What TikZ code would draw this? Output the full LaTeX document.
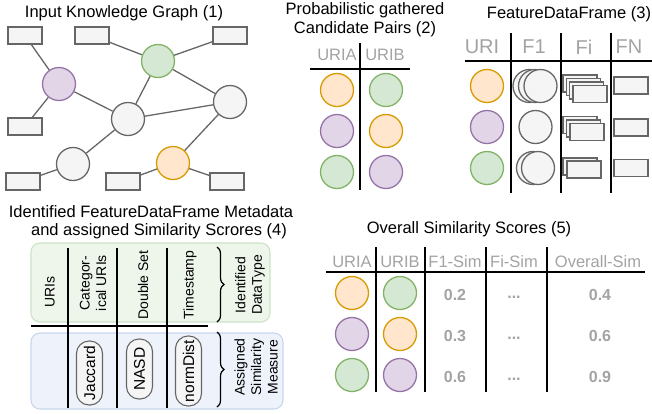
\documentclass[tikz,border=0pt]{standalone}
\usepackage{fontspec}
\setmainfont{Liberation Sans}
\usetikzlibrary{decorations.pathreplacing}
\definecolor{orF}{HTML}{FFE6CC}\definecolor{orS}{HTML}{D79B00}
\definecolor{puF}{HTML}{E1D5E7}\definecolor{puS}{HTML}{9673A6}
\definecolor{grF}{HTML}{D5E8D4}\definecolor{grS}{HTML}{82B366}
\definecolor{gyF}{HTML}{F5F5F5}\definecolor{gyS}{HTML}{666666}
\definecolor{hdr}{HTML}{A3A3A3}
\definecolor{gbF}{HTML}{EEF6EC}\definecolor{gbS}{HTML}{CCE3C7}
\definecolor{bbF}{HTML}{EEF3FB}\definecolor{bbS}{HTML}{C8D6EC}
\tikzset{
 ent/.style={circle, line width=1.3pt, minimum size=33pt, inner sep=0pt},
 ora/.style={ent, fill=orF, draw=orS},
 pur/.style={ent, fill=puF, draw=puS},
 grn/.style={ent, fill=grF, draw=grS},
 gry/.style={ent, fill=gyF, draw=gyS},
 lit/.style={rectangle, draw=gyS, fill=gyF, line width=1.3pt, minimum width=34pt, minimum height=17pt, inner sep=0pt},
 kgedge/.style={draw=gyS, line width=1.3pt},
 ttl/.style={font=\fontsize{16.5}{19}\selectfont, inner sep=0pt, align=center},
 hd/.style={text=hdr, font=\fontsize{16.5}{19}\selectfont, inner sep=0pt},
 hdbig/.style={text=hdr, font=\fontsize{20}{22}\selectfont, inner sep=0pt},
 val/.style={text=hdr, font=\fontsize{16}{18}\selectfont\bfseries, inner sep=0pt},
 tline/.style={line width=1.3pt, black},
 rot/.style={rotate=90, font=\fontsize{14}{16.5}\selectfont, inner sep=0pt, align=center},
 pill/.style={rotate=90, draw=gyS, fill=gyF, line width=1.1pt, rounded corners=12.5pt, minimum height=26pt, inner sep=0pt, font=\fontsize{15.5}{17}\selectfont},
 brc/.style={decorate, decoration={brace, amplitude=7pt}, line width=1.2pt, black},
}
\begin{document}
\begin{tikzpicture}[x=1pt, y=-1pt]
\useasboundingbox (0,0) rectangle (652,413);
% ---------- Panel 1: knowledge graph ----------
\node[ttl] (t1) at (124,13.5) {Input Knowledge Graph (1)};
\node[lit] (r1) at (25,35.5) {};
\node[lit] (r2) at (92,35.5) {};
\node[lit] (r3) at (230,35.5) {};
\node[lit] (r4) at (25,126.5) {};
\node[lit] (r5) at (23,181.5) {};
\node[lit] (r6) at (123,181.5) {};
\node[lit] (r7) at (227,181.5) {};
\node[grn] (gG) at (158,61) {};
\node[pur] (gP) at (59,84) {};
\node[gry] (gC) at (128,119) {};
\node[gry] (gR) at (230,102) {};
\node[gry] (gB) at (73,164) {};
\node[ora] (gO) at (173,163) {};
\draw[kgedge] (r1) -- (gP);
\draw[kgedge] (gP) -- (r4);
\draw[kgedge] (gP) -- (gC);
\draw[kgedge] (r2) -- (gG);
\draw[kgedge] (gG) -- (r3);
\draw[kgedge] (gG) -- (gC);
\draw[kgedge] (gG) -- (gR);
\draw[kgedge] (gC) -- (gR);
\draw[kgedge] (gC) -- (gB);
\draw[kgedge] (gB) -- (r5);
\draw[kgedge] (gR) -- (gO);
\draw[kgedge] (gO) -- (r6);
\draw[kgedge] (gO) -- (r7);
% ---------- Panel 2: candidate pairs ----------
\node[ttl] (t2) at (365,19.5) {Probabilistic gathered\\Candidate Pairs (2)};
\node[hd] (h2a) at (337,55) {URIA};
\node[hd] (h2b) at (385,55) {URIB};
\coordinate (v2t) at (360,43); \coordinate (v2b) at (360,190);
\coordinate (h2l) at (310,69); \coordinate (h2r) at (410,69);
\draw[tline] (v2t) -- (v2b);
\draw[tline] (h2l) -- (h2r);
\node[ora] (p2a1) at (337,90) {};  \node[grn] (p2b1) at (386,90) {};
\node[pur] (p2a2) at (337,131) {}; \node[ora] (p2b2) at (386,131) {};
\node[grn] (p2a3) at (337,172) {}; \node[pur] (p2b3) at (386,172) {};
% ---------- Panel 3: feature data frame ----------
\node[ttl] (t3) at (569,14) {FeatureDataFrame (3)};
\node[hdbig] (h3a) at (482,47) {URI};
\node[hdbig] (h3b) at (534,47) {F1};
\node[hdbig] (h3c) at (584,47) {Fi};
\node[hdbig] (h3d) at (629,47) {FN};
\coordinate (v3at) at (511,33); \coordinate (v3ab) at (511,193);
\coordinate (v3bt) at (561,33); \coordinate (v3bb) at (561,193);
\coordinate (v3ct) at (611,33); \coordinate (v3cb) at (611,193);
\coordinate (h3l) at (465,61); \coordinate (h3r) at (652,61);
\draw[tline] (v3at) -- (v3ab);
\draw[tline] (v3bt) -- (v3bb);
\draw[tline] (v3ct) -- (v3cb);
\draw[tline] (h3l) -- (h3r);
\node[ora] (u1) at (487,86) {};
\node[pur] (u2) at (487,127) {};
\node[grn] (u3) at (487,168) {};
\node[gry] (f11a) at (529.5,86) {};
\node[gry] (f11b) at (535,86) {};
\node[gry] (f11c) at (540.5,86) {};
\node[gry] (f12a) at (535.5,127) {};
\node[gry] (f13a) at (533,168) {};
\node[gry] (f13b) at (538,168) {};
\node[lit] (fi1a) at (580,83.5) {};
\node[lit] (fi1b) at (583.3,87) {};
\node[lit] (fi1c) at (586.7,90.5) {};
\node[lit] (fi1d) at (590,94) {};
\node[lit] (fi2a) at (580,125) {};
\node[lit] (fi2b) at (583.5,128.5) {};
\node[lit] (fi2c) at (587,132) {};
\node[lit] (fi3a) at (580,166.5) {};
\node[lit] (fi3b) at (584,169.5) {};
\node[lit] (fn1) at (631,85.5) {};
\node[lit] (fn2) at (631,127.5) {};
\node[lit] (fn3) at (631,168) {};
% ---------- Panel 4: metadata ----------
\node[ttl] (t4a) at (151,212) {Identified FeatureDataFrame Metadata};
\node[ttl] (t4b) at (159,231) {and assigned Similarity Scrores (4)};
\node[draw=gbS, fill=gbF, line width=1.1pt, rounded corners=9pt, minimum width=239pt, minimum height=79pt, inner sep=0pt] (gbox) at (150.5,282.5) {};
\node[draw=bbS, fill=bbF, line width=1.1pt, rounded corners=9pt, minimum width=252pt, minimum height=76pt, inner sep=0pt] (bbox) at (157,371) {};
\coordinate (v4at) at (68,248); \coordinate (v4ab) at (68,408);
\coordinate (v4bt) at (117,248); \coordinate (v4bb) at (117,408);
\coordinate (v4ct) at (167,248); \coordinate (v4cb) at (167,408);
\coordinate (h4l) at (31,326); \coordinate (h4r) at (208,326);
\draw[tline] (v4at) -- (v4ab);
\draw[tline] (v4bt) -- (v4bb);
\draw[tline] (v4ct) -- (v4cb);
\draw[tline] (h4l) -- (h4r);
\node[rot] (c1) at (50,292) {URIs};
\node[rot] (c2) at (93,283) {Categor-\\ical URIs};
\node[rot] (c3) at (143,285) {Double Set};
\node[rot] (c4) at (190,285) {Timestamp};
\node[pill, minimum width=64pt] (pj) at (89.5,373) {Jaccard};
\node[pill, minimum width=60pt] (pn) at (139.5,369) {NASD};
\node[pill, minimum width=70pt] (pd) at (188.5,371) {normDist};
\coordinate (b1t) at (217,247); \coordinate (b1b) at (217,322);
\coordinate (b2t) at (217,332); \coordinate (b2b) at (217,407);
\draw[brc] (b1t) -- (b1b);
\draw[brc] (b2t) -- (b2b);
\node[rot] (bt1) at (250,285) {Identified\\DataType};
\node[rot] (bt2) at (256,367) {Assigned\\Similarity\\Measure};
% ---------- Panel 5: overall similarity ----------
\node[ttl] (t5) at (469,229) {Overall Similarity Scores (5)};
\node[hd] (h5a) at (352,262) {URIA};
\node[hd] (h5b) at (400,262) {URIB};
\node[hd] (h5c) at (455,262) {F1-Sim};
\node[hd] (h5d) at (514,262) {Fi-Sim};
\node[hd] (h5e) at (598,262) {Overall-Sim};
\coordinate (v5at) at (376,247); \coordinate (v5ab) at (376,392);
\coordinate (v5bt) at (425,247); \coordinate (v5bb) at (425,392);
\coordinate (v5ct) at (486,247); \coordinate (v5cb) at (486,392);
\coordinate (v5dt) at (547,247); \coordinate (v5db) at (547,392);
\coordinate (h5l) at (326,272); \coordinate (h5r) at (645,272);
\draw[tline] (v5at) -- (v5ab);
\draw[tline] (v5bt) -- (v5bb);
\draw[tline] (v5ct) -- (v5cb);
\draw[tline] (v5dt) -- (v5db);
\draw[tline] (h5l) -- (h5r);
\node[ora] (s1a) at (352,293) {}; \node[grn] (s1b) at (400,293) {};
\node[pur] (s2a) at (352,334) {}; \node[ora] (s2b) at (400,334) {};
\node[grn] (s3a) at (352,375) {}; \node[pur] (s3b) at (400,375) {};
\node[val] (v11) at (455,295) {0.2};
\node[val] (v21) at (455,336) {0.3};
\node[val] (v31) at (455,377) {0.6};
\node[val] (v12) at (514,297) {...};
\node[val] (v22) at (514,338) {...};
\node[val] (v32) at (514,379) {...};
\node[val] (v13) at (600,295) {0.4};
\node[val] (v23) at (600,336) {0.6};
\node[val] (v33) at (600,377) {0.9};
\end{tikzpicture}
\end{document}
